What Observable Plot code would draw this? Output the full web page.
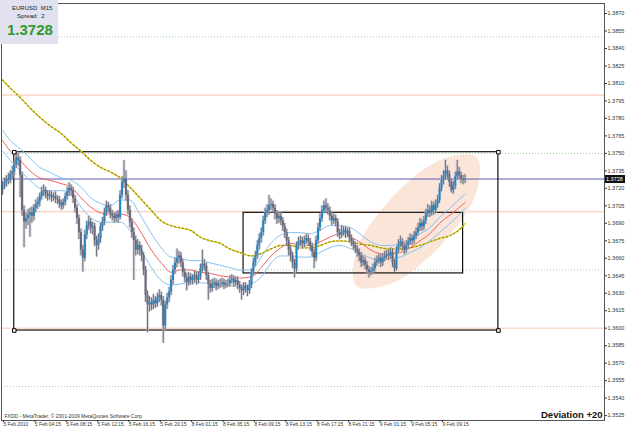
<!DOCTYPE html>
<html><head><meta charset="utf-8">
<script src="https://cdn.jsdelivr.net/npm/d3@7"></script>
<script src="https://cdn.jsdelivr.net/npm/@observablehq/plot@0.6"></script>
<style>
body{margin:0;background:#fff;}
#wrap{position:relative;width:625px;height:429px;overflow:hidden;}
#info{position:absolute;left:0;top:0;width:58px;height:44px;background:#e1e1ef;font-family:"Liberation Sans",Arial,sans-serif;z-index:2;}
#info .s{position:absolute;font-size:6px;color:#222;white-space:nowrap;}
#info .p{position:absolute;left:7px;top:21px;font-size:15px;font-weight:bold;color:#2e9a2e;}
#plabel{position:absolute;left:605px;width:19px;height:8px;background:#111;color:#fff;font:5.5px "Liberation Sans",Arial,sans-serif;line-height:8px;text-align:left;padding-left:1px;z-index:2;}
</style></head><body>
<div id="wrap">
<div id="info"><div class="s" style="left:12px;top:5px">EURUSD&nbsp;&nbsp;M15</div><div class="s" style="left:17px;top:13px">Spread:&nbsp;&nbsp;2</div><div class="p">1.3728</div></div>
</div>
<script>
const openP = [1.3718,1.3722,1.3725,1.3728,1.3727,1.3732,1.3734,1.3740,1.3746,1.3744,
1.3731,1.3701,1.3691,1.3694,1.3697,1.3699,1.3696,1.3703,1.3706,1.3708,
1.3713,1.3717,1.3718,1.3715,1.3713,1.3714,1.3712,1.3713,1.3711,1.3710,
1.3707,1.3705,1.3708,1.3713,1.3717,1.3720,1.3718,1.3711,1.3703,1.3694,
1.3682,1.3667,1.3660,1.3680,1.3688,1.3691,1.3686,1.3687,1.3675,1.3671,
1.3677,1.3687,1.3691,1.3699,1.3705,1.3703,1.3698,1.3696,1.3694,1.3697,
1.3695,1.3714,1.3725,1.3728,1.3714,1.3701,1.3691,1.3682,1.3675,1.3667,
1.3671,1.3667,1.3662,1.3650,1.3628,1.3620,1.3622,1.3620,1.3624,1.3621,
1.3626,1.3628,1.3624,1.3602,1.3620,1.3626,1.3631,1.3641,1.3650,1.3656,
1.3660,1.3662,1.3656,1.3648,1.3643,1.3639,1.3644,1.3641,1.3643,1.3645,
1.3641,1.3644,1.3651,1.3655,1.3653,1.3645,1.3638,1.3634,1.3638,1.3639,
1.3636,1.3638,1.3638,1.3639,1.3637,1.3638,1.3638,1.3641,1.3642,1.3639,
1.3641,1.3637,1.3634,1.3632,1.3636,1.3634,1.3632,1.3637,1.3648,1.3656,
1.3662,1.3671,1.3677,1.3682,1.3692,1.3699,1.3701,1.3705,1.3706,1.3703,
1.3698,1.3694,1.3696,1.3692,1.3687,1.3682,1.3675,1.3667,1.3662,1.3656,
1.3651,1.3671,1.3674,1.3675,1.3672,1.3675,1.3677,1.3674,1.3670,1.3665,
1.3660,1.3675,1.3686,1.3694,1.3701,1.3705,1.3703,1.3701,1.3696,1.3692,
1.3694,1.3691,1.3682,1.3680,1.3682,1.3684,1.3681,1.3683,1.3677,1.3674,
1.3671,1.3668,1.3665,1.3662,1.3656,1.3658,1.3654,1.3650,1.3648,1.3649,
1.3651,1.3656,1.3658,1.3660,1.3656,1.3660,1.3662,1.3663,1.3662,1.3665,
1.3656,1.3651,1.3667,1.3672,1.3674,1.3670,1.3667,1.3671,1.3674,1.3677,
1.3675,1.3679,1.3682,1.3686,1.3690,1.3687,1.3692,1.3698,1.3701,1.3699,
1.3705,1.3701,1.3706,1.3710,1.3720,1.3727,1.3730,1.3735,1.3732,1.3725,
1.3718,1.3722,1.3730,1.3734,1.3731,1.3728,1.3727];
const closeP = [1.3722,1.3725,1.3728,1.3727,1.3732,1.3734,1.3740,1.3746,1.3744,1.3731,
1.3701,1.3691,1.3694,1.3697,1.3699,1.3696,1.3703,1.3706,1.3708,1.3713,
1.3717,1.3718,1.3715,1.3713,1.3714,1.3712,1.3713,1.3711,1.3710,1.3707,
1.3705,1.3708,1.3713,1.3717,1.3720,1.3718,1.3711,1.3703,1.3694,1.3682,
1.3667,1.3660,1.3680,1.3688,1.3691,1.3686,1.3687,1.3675,1.3671,1.3677,
1.3687,1.3691,1.3699,1.3705,1.3703,1.3698,1.3696,1.3694,1.3697,1.3695,
1.3714,1.3725,1.3728,1.3714,1.3701,1.3691,1.3682,1.3675,1.3667,1.3671,
1.3667,1.3662,1.3650,1.3628,1.3620,1.3622,1.3620,1.3624,1.3621,1.3626,
1.3628,1.3624,1.3602,1.3620,1.3626,1.3631,1.3641,1.3650,1.3656,1.3660,
1.3662,1.3656,1.3648,1.3643,1.3639,1.3644,1.3641,1.3643,1.3645,1.3641,
1.3644,1.3651,1.3655,1.3653,1.3645,1.3638,1.3634,1.3638,1.3639,1.3636,
1.3638,1.3638,1.3639,1.3637,1.3638,1.3638,1.3641,1.3642,1.3639,1.3641,
1.3637,1.3634,1.3632,1.3636,1.3634,1.3632,1.3637,1.3648,1.3656,1.3662,
1.3671,1.3677,1.3682,1.3692,1.3699,1.3701,1.3705,1.3706,1.3703,1.3698,
1.3694,1.3696,1.3692,1.3687,1.3682,1.3675,1.3667,1.3662,1.3656,1.3651,
1.3671,1.3674,1.3675,1.3672,1.3675,1.3677,1.3674,1.3670,1.3665,1.3660,
1.3675,1.3686,1.3694,1.3701,1.3705,1.3703,1.3701,1.3696,1.3692,1.3694,
1.3691,1.3682,1.3680,1.3682,1.3684,1.3681,1.3683,1.3677,1.3674,1.3671,
1.3668,1.3665,1.3662,1.3656,1.3658,1.3654,1.3650,1.3648,1.3649,1.3651,
1.3656,1.3658,1.3660,1.3656,1.3660,1.3662,1.3663,1.3662,1.3665,1.3656,
1.3651,1.3667,1.3672,1.3674,1.3670,1.3667,1.3671,1.3674,1.3677,1.3675,
1.3679,1.3682,1.3686,1.3690,1.3687,1.3692,1.3698,1.3701,1.3699,1.3705,
1.3701,1.3706,1.3710,1.3720,1.3727,1.3730,1.3735,1.3732,1.3725,1.3718,
1.3722,1.3730,1.3734,1.3731,1.3728,1.3727,1.3728];
const highP = [1.3726,1.3729,1.3731,1.3733,1.3735,1.3739,1.3743,1.3752,1.3750,1.3747,
1.3734,1.3705,1.3699,1.3702,1.3703,1.3704,1.3706,1.3710,1.3712,1.3716,
1.3721,1.3723,1.3721,1.3718,1.3718,1.3717,1.3716,1.3717,1.3714,1.3713,
1.3710,1.3711,1.3716,1.3721,1.3725,1.3723,1.3721,1.3714,1.3706,1.3697,
1.3685,1.3671,1.3684,1.3692,1.3696,1.3694,1.3691,1.3690,1.3679,1.3681,
1.3690,1.3695,1.3703,1.3709,1.3708,1.3706,1.3701,1.3699,1.3700,1.3701,
1.3718,1.3730,1.3744,1.3735,1.3718,1.3705,1.3694,1.3686,1.3679,1.3676,
1.3674,1.3671,1.3665,1.3653,1.3632,1.3627,1.3626,1.3629,1.3627,1.3630,
1.3633,1.3631,1.3627,1.3623,1.3630,1.3635,1.3645,1.3654,1.3660,1.3668,
1.3666,1.3665,1.3659,1.3651,1.3647,1.3648,1.3647,1.3646,1.3649,1.3648,
1.3648,1.3655,1.3667,1.3659,1.3656,1.3648,1.3641,1.3642,1.3643,1.3642,
1.3641,1.3642,1.3643,1.3642,1.3641,1.3642,1.3645,1.3646,1.3645,1.3644,
1.3644,1.3640,1.3637,1.3639,1.3639,1.3637,1.3641,1.3651,1.3660,1.3666,
1.3675,1.3681,1.3686,1.3696,1.3703,1.3706,1.3714,1.3711,1.3709,1.3706,
1.3701,1.3700,1.3699,1.3695,1.3690,1.3685,1.3678,1.3670,1.3665,1.3659,
1.3674,1.3678,1.3679,1.3678,1.3679,1.3681,1.3680,1.3677,1.3673,1.3668,
1.3679,1.3690,1.3698,1.3705,1.3709,1.3711,1.3707,1.3704,1.3699,1.3698,
1.3697,1.3694,1.3685,1.3688,1.3687,1.3687,1.3686,1.3686,1.3680,1.3677,
1.3674,1.3671,1.3668,1.3665,1.3662,1.3661,1.3657,1.3653,1.3652,1.3655,
1.3660,1.3662,1.3664,1.3663,1.3664,1.3666,1.3667,1.3667,1.3669,1.3668,
1.3659,1.3670,1.3676,1.3679,1.3677,1.3673,1.3675,1.3678,1.3681,1.3680,
1.3683,1.3686,1.3690,1.3694,1.3693,1.3696,1.3702,1.3706,1.3705,1.3709,
1.3708,1.3710,1.3714,1.3724,1.3731,1.3735,1.3744,1.3739,1.3735,1.3728,
1.3726,1.3734,1.3744,1.3738,1.3734,1.3731,1.3732];
const lowP = [1.3714,1.3719,1.3721,1.3723,1.3724,1.3728,1.3731,1.3737,1.3739,1.3712,
1.3696,1.3669,1.3685,1.3688,1.3678,1.3690,1.3692,1.3699,1.3702,1.3704,
1.3710,1.3713,1.3711,1.3709,1.3710,1.3708,1.3709,1.3707,1.3706,1.3703,
1.3701,1.3702,1.3705,1.3710,1.3713,1.3713,1.3707,1.3699,1.3689,1.3676,
1.3662,1.3648,1.3657,1.3676,1.3684,1.3681,1.3680,1.3670,1.3661,1.3667,
1.3673,1.3683,1.3688,1.3696,1.3699,1.3694,1.3692,1.3690,1.3691,1.3690,
1.3693,1.3711,1.3720,1.3709,1.3697,1.3686,1.3677,1.3641,1.3662,1.3663,
1.3662,1.3657,1.3645,1.3622,1.3596,1.3614,1.3615,1.3616,1.3617,1.3618,
1.3622,1.3619,1.3587,1.3598,1.3616,1.3622,1.3628,1.3637,1.3646,1.3652,
1.3655,1.3652,1.3644,1.3639,1.3632,1.3636,1.3637,1.3637,1.3639,1.3637,
1.3638,1.3641,1.3648,1.3649,1.3641,1.3624,1.3630,1.3631,1.3634,1.3632,
1.3633,1.3634,1.3635,1.3633,1.3634,1.3635,1.3635,1.3638,1.3635,1.3636,
1.3633,1.3630,1.3624,1.3628,1.3630,1.3627,1.3629,1.3634,1.3645,1.3653,
1.3659,1.3667,1.3673,1.3679,1.3689,1.3695,1.3697,1.3701,1.3699,1.3693,
1.3689,1.3690,1.3688,1.3683,1.3677,1.3670,1.3662,1.3657,1.3651,1.3643,
1.3648,1.3667,1.3670,1.3668,1.3669,1.3672,1.3670,1.3666,1.3661,1.3651,
1.3657,1.3672,1.3683,1.3691,1.3698,1.3699,1.3697,1.3692,1.3688,1.3689,
1.3687,1.3678,1.3676,1.3677,1.3679,1.3677,1.3678,1.3673,1.3670,1.3667,
1.3664,1.3661,1.3657,1.3652,1.3653,1.3650,1.3646,1.3643,1.3645,1.3646,
1.3648,1.3653,1.3655,1.3652,1.3653,1.3657,1.3659,1.3658,1.3659,1.3652,
1.3648,1.3649,1.3664,1.3669,1.3666,1.3663,1.3664,1.3668,1.3671,1.3671,
1.3672,1.3676,1.3679,1.3683,1.3683,1.3684,1.3689,1.3695,1.3695,1.3696,
1.3697,1.3698,1.3703,1.3707,1.3717,1.3723,1.3727,1.3728,1.3721,1.3716,
1.3715,1.3719,1.3727,1.3727,1.3724,1.3723,1.3724];

// indicator lines, sampled at these bars
const maBars = [0,4,9,14,19,24,30,35,40,45,50,55,60,65,70,76,81,86,91,96,101,106,111,116,121,127,132,137,142,147,152,157,162,167,172,178,183,188,193,198,203,208,213,218,223,229,234,236];
const upperBand = [1.3770,1.3761,1.3754,1.3746,1.3738,1.3734,1.3729,1.3727,1.3721,1.3712,1.3707,1.3705,1.3710,1.3710,1.3698,1.3681,1.3669,1.3661,1.3660,1.3658,1.3658,1.3656,1.3654,1.3652,1.3650,1.3650,1.3661,1.3673,1.3680,1.3682,1.3682,1.3681,1.3684,1.3688,1.3688,1.3686,1.3680,1.3674,1.3671,1.3671,1.3673,1.3677,1.3681,1.3686,1.3695,1.3704,1.3712,1.3715];
const midMA = [1.3761,1.3752,1.3744,1.3735,1.3729,1.3727,1.3724,1.3721,1.3712,1.3704,1.3699,1.3698,1.3698,1.3695,1.3684,1.3667,1.3656,1.3648,1.3650,1.3650,1.3648,1.3647,1.3645,1.3644,1.3643,1.3644,1.3652,1.3662,1.3669,1.3673,1.3671,1.3671,1.3674,1.3678,1.3681,1.3678,1.3673,1.3667,1.3664,1.3664,1.3665,1.3669,1.3675,1.3681,1.3690,1.3698,1.3705,1.3708];
const lowerBand = [1.3752,1.3744,1.3735,1.3727,1.3720,1.3718,1.3718,1.3716,1.3704,1.3695,1.3691,1.3691,1.3691,1.3684,1.3669,1.3652,1.3641,1.3637,1.3638,1.3639,1.3639,1.3638,1.3637,1.3637,1.3635,1.3638,1.3644,1.3656,1.3662,1.3662,1.3661,1.3661,1.3665,1.3669,1.3671,1.3668,1.3664,1.3660,1.3658,1.3660,1.3661,1.3665,1.3669,1.3675,1.3682,1.3691,1.3699,1.3703];
const slowMA = [1.3813,1.3806,1.3798,1.3789,1.3781,1.3774,1.3767,1.3759,1.3752,1.3744,1.3738,1.3734,1.3729,1.3721,1.3712,1.3701,1.3692,1.3688,1.3686,1.3684,1.3678,1.3675,1.3673,1.3668,1.3665,1.3662,1.3664,1.3668,1.3671,1.3671,1.3669,1.3669,1.3671,1.3674,1.3675,1.3674,1.3672,1.3671,1.3669,1.3668,1.3668,1.3669,1.3671,1.3674,1.3677,1.3680,1.3686,1.3690];

// drawn objects
const boxBar1 = [6, 123];
const boxBar2 = [253, 235];
const boxTop = [1.3751, 1.3699];
const boxBottom = [1.3598, 1.3647];
const ellipseBars = [241.8, 241.8, 223.9, 198.6, 180.6, 180.6, 198.5, 223.9];
const ellipsePrices = [1.37468, 1.37166, 1.36717, 1.36385, 1.36363, 1.36666, 1.37115, 1.37447];
const pinkLevels = [1.3800, 1.3700, 1.3600];
const greenLevels = [1.3850, 1.3750, 1.3650, 1.3550];
const lastPrice = 1.3728;

// axes
const yTicks = [1.3870,1.3855,1.3840,1.3825,1.3810,1.3795,1.3780,1.3765,1.3750,1.3735,1.3720,1.3705,1.3690,1.3675,1.3660,1.3645,1.3630,1.3615,1.3600,1.3585,1.3570,1.3555,1.3540,1.3525];
const xTickBars = [0,16,32,48,64,80,96,112,128,144,160,176,192,208,224];
const xTickLabels = ["5 Feb 2010","5 Feb 04:15","5 Feb 08:15","5 Feb 12:15","5 Feb 16:15","5 Feb 20:15","8 Feb 01:15","8 Feb 05:15","8 Feb 09:15","8 Feb 13:15","8 Feb 17:15","8 Feb 21:15","9 Feb 01:15","9 Feb 05:15","9 Feb 09:15"];

const candles = closeP.map((c, i) => ({i, open: openP[i], high: highP[i], low: lowP[i], close: c}));
const up = candles.filter(d => d.close >= d.open);
const down = candles.filter(d => d.close < d.open);
const ma = maBars.map((b, k) => ({bar: b, upper: upperBand[k], mid: midMA[k], lower: lowerBand[k], slow: slowMA[k]}));
const boxes = boxBar1.map((b, k) => ({x1: b, x2: boxBar2[k], y1: boxBottom[k], y2: boxTop[k]}));
const corners = [
  {x: boxBar1[0], y: boxTop[0]}, {x: boxBar1[0], y: boxBottom[0]},
  {x: boxBar2[0], y: boxTop[0]}, {x: boxBar2[0], y: boxBottom[0]}
];
const ellipse = ellipseBars.map((b, k) => ({bar: b, price: ellipsePrices[k]}));

const chart = Plot.plot({
  width: 625, height: 429,
  marginLeft: 1, marginRight: 21, marginTop: 3, marginBottom: 9,
  x: {domain: [-0.51, 307.14], axis: null},
  y: {domain: [1.35208, 1.38786], axis: null},
  style: {fontFamily: "'Liberation Sans', Arial, sans-serif", background: "#fff", color: "#222"},
  marks: [
    Plot.ruleY(pinkLevels, {stroke: "#fbd9cc", strokeWidth: 1.6}),
    Plot.ruleY(greenLevels, {stroke: "#9ad894", strokeDasharray: "1,2"}),
    Plot.line(ellipse, {x: "bar", y: "price", curve: "catmull-rom-closed", fill: "#fbe5d8", stroke: "none"}),
    Plot.ruleY([lastPrice], {stroke: "#5b5bb2", strokeWidth: 1}),
    Plot.rect(boxes, {x1: "x1", x2: "x2", y1: "y1", y2: "y2", fill: "none", stroke: "#111", strokeWidth: 1.2}),
    Plot.line(ma, {x: "bar", y: "slow", stroke: "#dccf20", strokeWidth: 1.3, curve: "monotone-x"}),
    Plot.line(ma, {x: "bar", y: "slow", stroke: "#9a9000", strokeWidth: 1.3, strokeDasharray: "1,3", curve: "monotone-x"}),
    Plot.line(ma, {x: "bar", y: "upper", stroke: "#86c2f2", strokeWidth: 1, curve: "monotone-x"}),
    Plot.line(ma, {x: "bar", y: "lower", stroke: "#86c2f2", strokeWidth: 1, curve: "monotone-x"}),
    Plot.line(ma, {x: "bar", y: "mid", stroke: "#f06060", strokeWidth: 1, curve: "monotone-x"}),
    Plot.ruleX(candles, {x: "i", y1: "low", y2: "high", stroke: "#c4c4ce", strokeWidth: 3, strokeOpacity: 0.6}),
    Plot.ruleX(candles, {x: "i", y1: "low", y2: "high", stroke: "#6c6c7c", strokeWidth: 1}),
    Plot.ruleX(down, {x: "i", y1: "open", y2: "close", stroke: "#6a6878", strokeWidth: 2}),
    Plot.ruleX(up, {x: "i", y1: "open", y2: "close", stroke: "#2485c4", strokeWidth: 2}),
    Plot.dot(corners, {x: "x", y: "y", symbol: "square", r: 2, fill: "#fff", stroke: "#000", strokeWidth: 1}),
    Plot.frame({stroke: "#555"}),
    Plot.axisY({anchor: "right", ticks: yTicks, tickFormat: d3.format(".4f"), tickSize: 2, tickPadding: 1, fontSize: 5.5, color: "#333"}),
    Plot.axisX({anchor: "bottom", ticks: xTickBars, tickFormat: d => xTickLabels[xTickBars.indexOf(d)], tickSize: 2, tickPadding: 0, textAnchor: "start", dx: 1, fontSize: 4.9, color: "#333"}),
    Plot.text(["Deviation +20"], {text: d => d, frameAnchor: "bottom-right", dx: -2, dy: -3, fontSize: 9.5, fontWeight: "bold", fill: "#111"}),
    Plot.text(["FXDD - MetaTrader, \u00a9 2001-2009 MetaQuotes Software Corp."], {text: d => d, frameAnchor: "bottom-left", dx: 3, dy: -3, fontSize: 5, fill: "#333"})
  ]
});
const wrap = document.getElementById("wrap");
wrap.insertBefore(chart, wrap.firstChild);
const lab = document.createElement("div");
lab.id = "plabel";
lab.textContent = d3.format(".4f")(lastPrice);
lab.style.top = (chart.scale("y").apply(lastPrice) - 4) + "px";
wrap.appendChild(lab);
</script>
</body></html>
